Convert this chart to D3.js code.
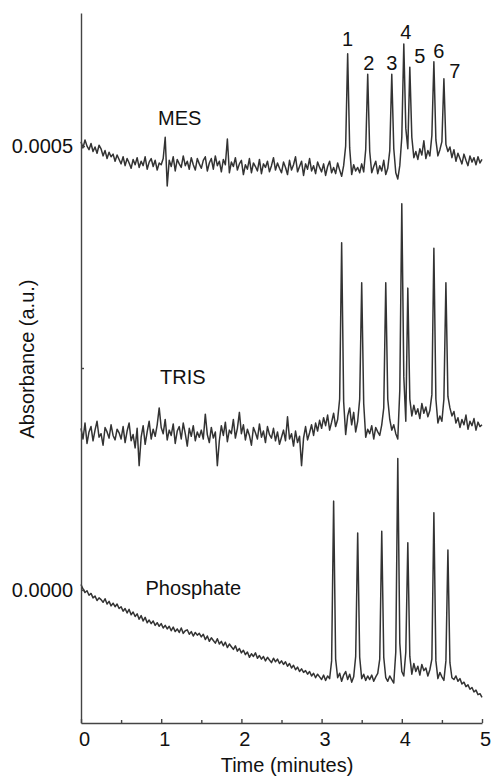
<!DOCTYPE html>
<html>
<head>
<meta charset="utf-8">
<script src="https://cdn.jsdelivr.net/npm/d3@7"></script>
<style>
  body { margin: 0; background: #fff; }
  svg text { font-family: "Liberation Sans", Arial, Helvetica, sans-serif; fill: #111; }
</style>
</head>
<body>
<svg id="chart" width="497" height="778"></svg>
<script>
// detector sampled every 0.025 min, values in micro-absorbance units (1e-6 a.u.)
var sampleStep = 0.025;

var mes = [
  505, 498, 507, 500, 496, 503, 494, 499, 492, 501, 497, 489, 495, 486, 493, 488, 491, 483, 490, 485,
  480, 488, 478, 486, 481, 475, 485, 479, 487, 476, 483, 478, 488, 474, 482, 486, 477, 484, 473, 481,
  479, 486, 510, 455, 484, 477, 488, 472, 485, 480, 476, 489, 478, 483, 474, 487, 479, 473, 486, 480,
  475, 484, 488, 472, 481, 486, 474, 489, 478, 483, 471, 485, 479, 508, 470, 482, 477, 487, 473, 480,
  484, 468, 479, 474, 486, 470, 481, 477, 472, 485, 469, 480, 476, 483, 471, 478, 487, 473, 481, 475,
  470, 482, 476, 468, 484, 473, 479, 488, 471, 477, 483, 467, 480, 474, 486, 472, 478, 469, 482, 476,
  471, 480, 467, 477, 483, 470, 476, 469, 481, 473, 466, 478, 500, 604, 498, 468, 479, 472, 476, 470,
  480, 471, 496, 581, 494, 470, 477, 483, 469, 478, 472, 484, 468, 475, 495, 581, 497, 470, 463, 478,
  510, 615, 520, 497, 589, 510, 487, 494, 485, 497, 490, 506, 486, 495, 489, 512, 595, 507, 489, 496,
  505, 576, 502, 494, 499, 487, 496, 483, 492, 486, 480, 491, 484, 478, 489, 482, 487, 479, 488, 481,
  485
];

var tris = [
  182, 170, 188, 165, 178, 184, 168, 180, 190, 172, 176, 163, 183, 178, 171, 186, 174, 169, 181, 177,
  170, 184, 166, 179, 188, 168, 175, 160, 182, 140, 172, 185, 164, 178, 190, 170, 181, 173, 186, 205,
  183, 176, 192, 169, 180, 174, 187, 165, 179, 184, 170, 188, 176, 162, 182, 173, 185, 168, 178, 172,
  180, 170, 198, 175, 166, 183, 171, 178, 140, 168, 185, 174, 189, 167, 180, 176, 192, 171, 182, 200,
  176, 186, 169, 181, 174, 163, 183, 177, 170, 187, 172, 179, 166, 184, 175, 171, 182, 168, 178, 164,
  172, 180, 168, 195, 170, 176, 162, 179, 166, 173, 140, 171, 184, 169, 177, 186, 174, 188, 179, 191,
  182, 194, 185, 197, 180, 189, 199, 184, 192, 215, 391, 212, 175, 196, 205, 186, 200, 178, 190, 215,
  346, 210, 172, 181, 176, 185, 170, 183, 178, 174, 186, 205, 346, 215, 192, 180, 186, 176, 170, 225,
  435, 240, 190, 340, 215, 196, 208, 198, 204, 193, 210, 199, 206, 195, 202, 220, 385, 215, 188, 196,
  190, 215, 346, 218, 205, 196, 201, 188, 194, 183, 192, 186, 197, 181, 190, 185, 193, 180, 189, 184,
  186
];

var phosphate = [
  6, 1, -3, -1, -6, -4, -9, -7, -12, -9, -11, -14, -10, -16, -13, -18, -15, -19, -16, -21,
  -19, -24, -21, -26, -22, -28, -25, -30, -27, -33, -29, -35, -31, -37, -34, -38, -35, -40, -37, -41,
  -38, -43, -40, -44, -41, -46, -42, -47, -44, -48, -43, -49, -46, -45, -50, -47, -52, -48, -51, -49,
  -53, -50, -56, -52, -58, -54, -57, -60, -55, -61, -58, -63, -59, -65, -61, -64, -67, -63, -69, -66,
  -71, -68, -73, -70, -76, -72, -75, -71, -77, -74, -78, -75, -80, -76, -79, -82, -77, -81, -78, -83,
  -80, -84, -81, -86, -83, -88, -85, -90, -87, -92, -89, -93, -91, -95, -92, -97, -94, -99, -95, -98,
  -101, -96, -102, -97, -100, -80, 100, -78, -99, -94, -103, -96, -92, -101, -95, -104, -98, -75, 64, -76,
  -100, -95, -102, -97, -101, -96, -103, -98, -94, -78, 66, -76, -99, -103, -97, -101, -105, -70, 148, -60,
  -92, -97, -70, 53, -75, -95, -83, -92, -86, -96, -84, -91, -88, -97, -90, -78, 87, -80, -100, -93,
  -98, -102, -80, 45, -82, -99, -101, -97, -103, -100, -106, -104, -109, -107, -112, -110, -115, -113, -118, -117,
  -121
];

var seriesNames = ['MES', 'TRIS', 'Phosphate'];
var peakNames = ['1', '2', '3', '4', '5', '6', '7'];
var peakIndexMES = [133, 143, 155, 161, 164, 176, 181];   // sample index of each numbered peak in MES trace
var xTicks = [0, 1, 2, 3, 4, 5];
var xMinor = [0.5, 1.5, 2.5, 3.5, 4.5];
var yTicks = [0, 500];
var yMinor = [250];

var svg = d3.select('#chart');

var x = d3.scaleLinear().domain([0, 5]).range([81, 482]);
var y = d3.scaleLinear().domain([-150, 650]).range([723, 13]);

var line = d3.line()
  .x(function(d, i) { return x(i * sampleStep); })
  .y(function(d) { return y(d); });

[mes, tris, phosphate].forEach(function(s) {
  svg.append('path')
    .attr('d', line(s))
    .attr('fill', 'none')
    .attr('stroke', '#333')
    .attr('stroke-width', 1.5)
    .attr('stroke-linejoin', 'round');
});

// axes
var xAxis = svg.append('g')
  .attr('transform', 'translate(0,723)')
  .call(d3.axisBottom(x).tickValues(xTicks).tickSizeInner(-4).tickSizeOuter(0).tickPadding(9)
    .tickFormat(d3.format('d')));
svg.append('g')
  .attr('transform', 'translate(0,723)')
  .call(d3.axisBottom(x).tickValues(xMinor).tickSizeInner(-3).tickSizeOuter(0).tickFormat(''))
  .select('.domain').remove();

var yAxis = svg.append('g')
  .attr('transform', 'translate(81,0)')
  .call(d3.axisLeft(y).tickValues(yTicks).tickSizeInner(-4).tickSizeOuter(0).tickPadding(8)
    .tickFormat(function(d) { return (d / 1e6).toFixed(4); }));
svg.append('g')
  .attr('transform', 'translate(81,0)')
  .call(d3.axisLeft(y).tickValues(yMinor).tickSizeInner(-3).tickSizeOuter(0).tickFormat(''))
  .select('.domain').remove();

svg.selectAll('.domain, .tick line').attr('stroke', '#444').attr('stroke-width', 1.4);
xAxis.selectAll('text').attr('font-size', 20).attr('dx', 3);
yAxis.selectAll('text').attr('font-size', 20);
svg.selectAll('g').attr('font-family', null);

// axis titles
svg.append('text')
  .attr('x', 287).attr('y', 772)
  .attr('text-anchor', 'middle')
  .attr('font-size', 20)
  .text('Time (minutes)');
svg.append('text')
  .attr('transform', 'translate(34,359) rotate(-90)')
  .attr('text-anchor', 'middle')
  .attr('font-size', 20)
  .text('Absorbance (a.u.)');

// buffer names, placed in data space beside each trace
var seriesLabelAt = [[1.23, 532], [1.27, 240], [1.40, 2]];
seriesNames.forEach(function(name, i) {
  svg.append('text')
    .attr('x', x(seriesLabelAt[i][0]))
    .attr('y', y(seriesLabelAt[i][1]))
    .attr('dy', '0.35em')
    .attr('text-anchor', 'middle')
    .attr('font-size', 20)
    .text(name);
});

// peak numbers over the MES trace
var nudgeX = [0, 1, 0, 2, 10, 5, 11];
var nudgeY = [-8, -4, -4, -5, -4, -4, -1];
svg.selectAll('.peak-label')
  .data(peakNames)
  .enter().append('text')
  .attr('class', 'peak-label')
  .attr('x', function(d, i) { return x(peakIndexMES[i] * sampleStep) + nudgeX[i]; })
  .attr('y', function(d, i) { return y(mes[peakIndexMES[i]]) + nudgeY[i]; })
  .attr('text-anchor', 'middle')
  .attr('font-size', 20)
  .text(function(d) { return d; });
</script>
</body>
</html>
